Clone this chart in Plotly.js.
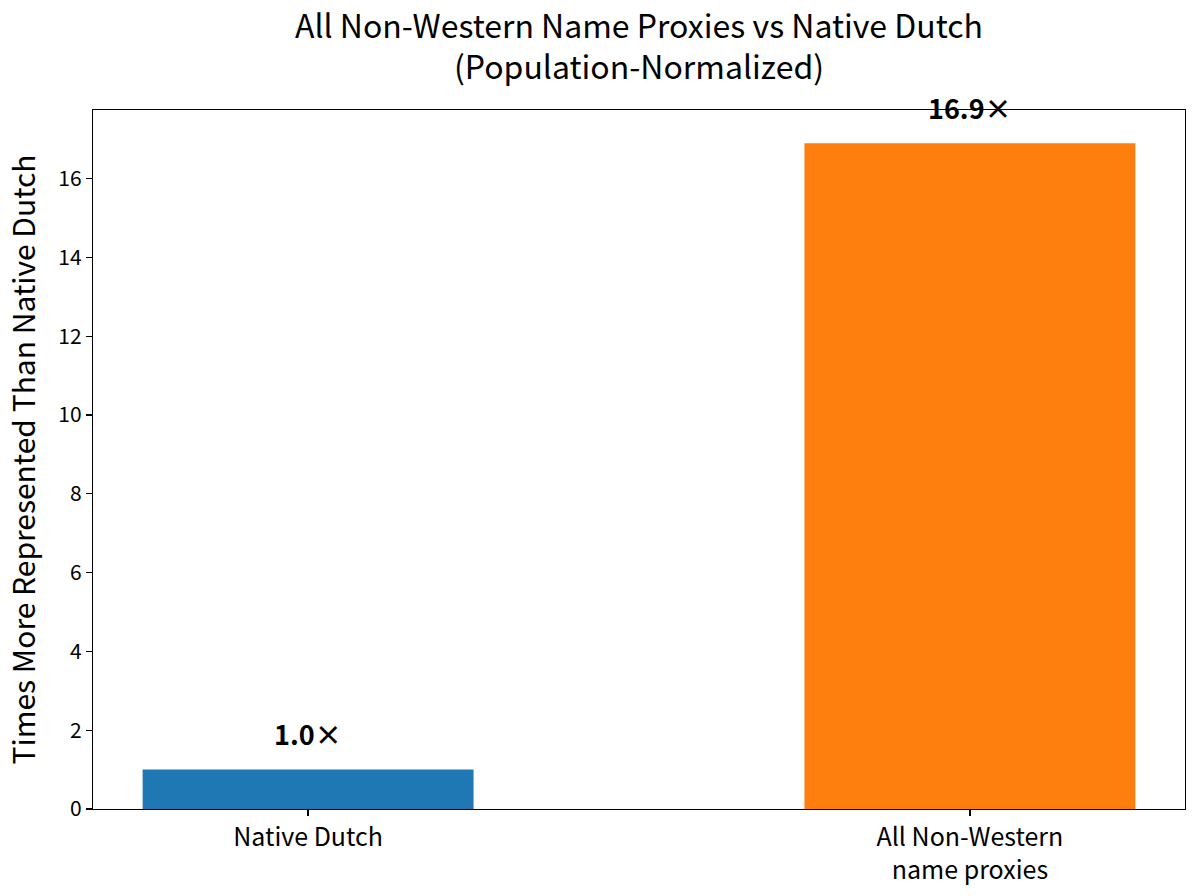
<!DOCTYPE html>
<html>
<head>
<meta charset="utf-8">
<script src="https://cdn.plot.ly/plotly-3.0.1.min.js"></script>
<style>html,body{margin:0;padding:0;background:#fff}</style>
</head>
<body>
<div id="chart" style="width:1200px;height:896px"></div>
<script>
const categories = ["Native Dutch", "All Non-Western<br>name proxies"];
const values = [1.0, 16.9];
const labels = ["1.0×", "16.9×"];
const colors = ["#1f77b4", "#ff7f0e"];
const yTicks = [0, 2, 4, 6, 8, 10, 12, 14, 16];

const FONT = "Noto Sans CJK JP, Source Sans Pro, sans-serif";

const trace = {
  type: "bar",
  x: [0, 1],
  y: values,
  width: 0.5,
  marker: {color: colors, line: {width: 0}},
  hoverinfo: "skip"
};

const annotations = values.map((v, i) => ({
  x: i, y: v, xref: "x", yref: "y",
  text: "<b>" + labels[i] + "</b>",
  showarrow: false, yanchor: "middle", xanchor: "center", yshift: 36,
  font: {family: FONT, size: 27, color: "#000"}
}));

const layout = {
  width: 1200, height: 896,
  margin: {l: 93, r: 15, t: 110, b: 87},
  paper_bgcolor: "#fff", plot_bgcolor: "#fff",
  font: {family: FONT, color: "#000"},
  title: {
    text: "All Non-Western Name Proxies vs Native Dutch<br>(Population-Normalized)",
    x: 0.5325, xanchor: "center", y: 0.958, yanchor: "top",
    font: {family: FONT, size: 32, color: "#000"}
  },
  xaxis: {
    range: [-0.325, 1.325],
    tickmode: "array", tickvals: [0, 1], ticktext: categories,
    ticks: "outside", ticklen: 6, tickwidth: 1.2, tickcolor: "#000",
    showline: true, linecolor: "#000", linewidth: 1.2, mirror: true,
    showgrid: false, zeroline: false,
    tickfont: {family: FONT, size: 25, color: "#000"}
  },
  yaxis: {
    range: [0, 17.745],
    tickmode: "array", tickvals: yTicks,
    ticks: "outside", ticklen: 6, tickwidth: 1.2, tickcolor: "#000",
    showline: true, linecolor: "#000", linewidth: 1.2, mirror: true,
    showgrid: false, zeroline: false,
    tickfont: {family: FONT, size: 21, color: "#000"},
    title: {text: "Times More Represented Than Native Dutch", standoff: 14,
            font: {family: FONT, size: 30, color: "#000"}}
  },
  annotations: annotations,
  showlegend: false
};

Plotly.newPlot("chart", [trace], layout, {displayModeBar: false, staticPlot: true});
</script>
</body>
</html>
